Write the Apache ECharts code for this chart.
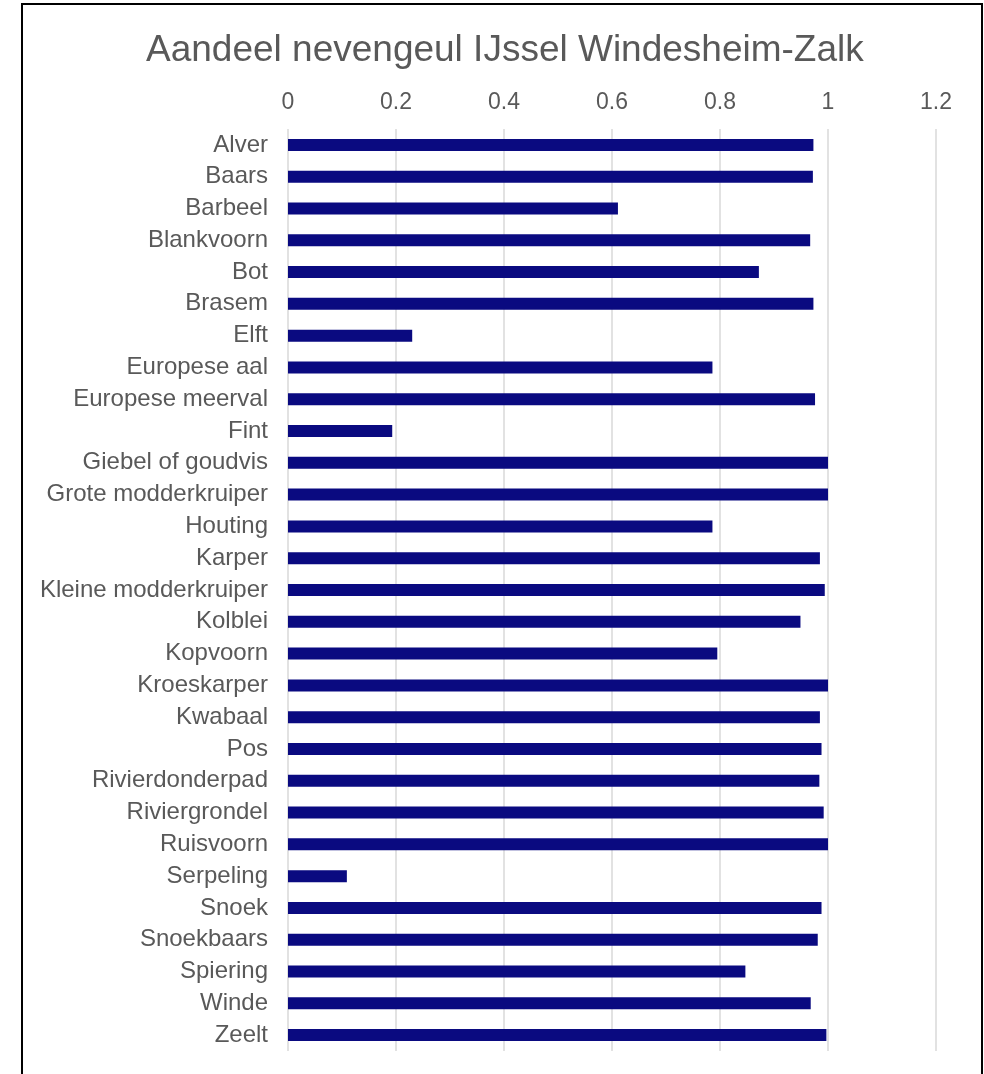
<!DOCTYPE html>
<html>
<head>
<meta charset="utf-8">
<script src="https://cdn.jsdelivr.net/npm/echarts@6/dist/echarts.min.js"></script>
<style>
  html, body { margin: 0; padding: 0; background: #fff; }
  #view { position: absolute; left: 0; top: 0; width: 984px; height: 1074px; }
  #frame { position: absolute; left: 21px; top: 3px; width: 958px; height: 1100px;
           border: 2px solid #000; pointer-events: none; }
</style>
</head>
<body>
<div id="view"></div>
<div id="frame"></div>
<script>
var soorten = ['Alver', 'Baars', 'Barbeel', 'Blankvoorn', 'Bot', 'Brasem', 'Elft',
  'Europese aal', 'Europese meerval', 'Fint', 'Giebel of goudvis', 'Grote modderkruiper',
  'Houting', 'Karper', 'Kleine modderkruiper', 'Kolblei', 'Kopvoorn', 'Kroeskarper',
  'Kwabaal', 'Pos', 'Rivierdonderpad', 'Riviergrondel', 'Ruisvoorn', 'Serpeling',
  'Snoek', 'Snoekbaars', 'Spiering', 'Winde', 'Zeelt'];

var aandeel = [0.973, 0.972, 0.611, 0.967, 0.872, 0.973, 0.230,
  0.786, 0.976, 0.193, 1.0, 1.0,
  0.786, 0.985, 0.994, 0.949, 0.795, 1.0,
  0.985, 0.988, 0.984, 0.992, 1.0, 0.109,
  0.988, 0.981, 0.847, 0.968, 0.997];

var myChart = echarts.init(document.getElementById('view'));

var option = {
    animation: false,
    title: {
        text: 'Aandeel nevengeul IJssel Windesheim-Zalk',
        left: 141,
        top: 27,
        textStyle: {
            fontFamily: 'Liberation Sans',
            fontWeight: 'normal',
            fontSize: 37,
            color: '#595959'
        }
    },
    grid: {
        left: 288,
        right: 48,
        top: 129,
        bottom: 23
    },
    xAxis: {
        type: 'value',
        position: 'top',
        min: 0,
        max: 1.2,
        interval: 0.2,
        axisLine: {show: false},
        axisTick: {show: false},
        axisLabel: {
            margin: 15,
            fontFamily: 'Liberation Sans',
            fontSize: 23,
            color: '#595959'
        },
        splitLine: {lineStyle: {color: '#d9d9d9', width: 1.5}}
    },
    yAxis: {
        type: 'category',
        inverse: true,
        data: soorten,
        axisLine: {show: false},
        axisTick: {show: false},
        axisLabel: {
            margin: 20,
            interval: 0,
            padding: [4, 0, 0, 0],
            fontFamily: 'Liberation Sans',
            fontSize: 24,
            color: '#595959'
        }
    },
    series: [{
        type: 'bar',
        data: aandeel,
        barWidth: 12,
        itemStyle: {color: '#0a0a80'}
    }]
};

myChart.setOption(option);
</script>
</body>
</html>
